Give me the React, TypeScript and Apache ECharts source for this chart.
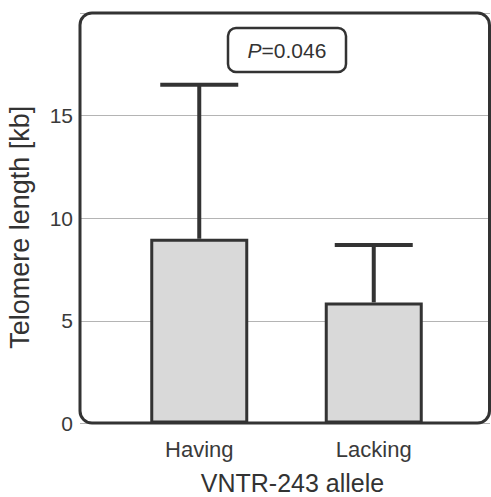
import React, { useEffect, useRef } from "react";
import * as echarts from "echarts";

const categories = ["Having", "Lacking"];
const meanValues = [9.0, 5.9];
const upperValues = [16.5, 8.7];
const yTicks = [0, 5, 10, 15, 20];
const pLabel = "P=0.046";
const xTitle = "VNTR-243 allele";
const yTitle = "Telomere length [kb]";

export default function App() {
  const ref = useRef<HTMLDivElement>(null);
  useEffect(() => {
    if (!ref.current) return;
    const chart = echarts.init(ref.current, undefined, { renderer: "svg" });
    const font = "Liberation Sans, Arial, sans-serif";
    const yMin = yTicks[0];
    const yMax = yTicks[yTicks.length - 1];
    const interval = yTicks[1] - yTicks[0];
    chart.setOption({
      animation: false,
      backgroundColor: "#ffffff",
      grid: [
        { left: 80, top: 13, width: 410, bottom: 73.5, outerBoundsMode: "none", containLabel: false },
        { left: 112, top: 13, width: 349, bottom: 73.5, outerBoundsMode: "none", containLabel: false },
      ],
      xAxis: [
        { type: "value", gridIndex: 0, min: 0, max: 1, show: false, splitLine: { show: false } },
        {
          type: "category",
          gridIndex: 1,
          data: categories,
          boundaryGap: true,
          axisLine: { show: false },
          axisTick: { show: false },
          axisLabel: { color: "#3a3a3a", fontSize: 22, fontFamily: font, margin: 15 },
          name: xTitle,
          nameLocation: "middle",
          nameGap: 50,
          nameTextStyle: { color: "#333", fontSize: 25, lineHeight: 18, fontFamily: font, padding: [0, 0, 0, 12] },
        },
      ],
      yAxis: [
        {
          type: "value",
          gridIndex: 0,
          min: yMin,
          max: yMax,
          interval: interval,
          axisLine: { show: false },
          axisTick: { show: false },
          axisLabel: { color: "#3a3a3a", fontSize: 21, fontFamily: font, margin: 7, showMaxLabel: false },
          splitLine: { lineStyle: { color: "#b4b4b4", width: 1 } },
          name: yTitle,
          nameLocation: "middle",
          nameGap: 47,
          nameTextStyle: { color: "#333", fontSize: 27, fontFamily: font, padding: [0, 18, 0, 0] },
        },
        { type: "value", gridIndex: 1, min: yMin, max: yMax, interval: interval, show: false, splitLine: { show: false } },
      ],
      series: [
        {
          type: "bar",
          xAxisIndex: 1,
          yAxisIndex: 1,
          data: meanValues,
          barWidth: 98,
          itemStyle: { color: "#d9d9d9", borderColor: "#333", borderWidth: 3 },
          z: 2,
        },
        {
          type: "custom",
          xAxisIndex: 1,
          yAxisIndex: 1,
          data: categories.map((c, i) => [i, meanValues[i], upperValues[i]]),
          z: 3,
          renderItem: (params: any, api: any) => {
            const base = api.coord([api.value(0), api.value(1)]);
            const top = api.coord([api.value(0), api.value(2)]);
            const half = 39;
            return {
              type: "group",
              children: [
                {
                  type: "line",
                  shape: { x1: top[0], y1: base[1], x2: top[0], y2: top[1] },
                  style: { stroke: "#333", lineWidth: 4 },
                },
                {
                  type: "line",
                  shape: { x1: top[0] - half, y1: top[1], x2: top[0] + half, y2: top[1] },
                  style: { stroke: "#333", lineWidth: 4 },
                },
              ],
            };
          },
        },
      ],
      graphic: [
        {
          type: "rect",
          z: 100,
          silent: true,
          shape: { x: 80, y: 13, width: 409.5, height: 410, r: 12 },
          style: { fill: "none", stroke: "#333", lineWidth: 3 },
        },
        {
          type: "rect",
          z: 100,
          shape: { x: 228, y: 28, width: 118, height: 44, r: 8 },
          style: { fill: "#fff", stroke: "#333", lineWidth: 2.5 },
        },
        {
          type: "text",
          z: 101,
          x: 287,
          y: 50,
          style: {
            text: "{i|P}" + pLabel.slice(1),
            fill: "#333",
            fontSize: 21,
            fontFamily: font,
            align: "center",
            verticalAlign: "middle",
            rich: { i: { fontStyle: "italic", fontSize: 21, fontFamily: font, fill: "#333" } },
          },
        },
      ],
    });
    return () => chart.dispose();
  }, []);
  return <div ref={ref} style={{ position: "fixed", left: 0, top: 0, width: 491, height: 497 }} />;
}
